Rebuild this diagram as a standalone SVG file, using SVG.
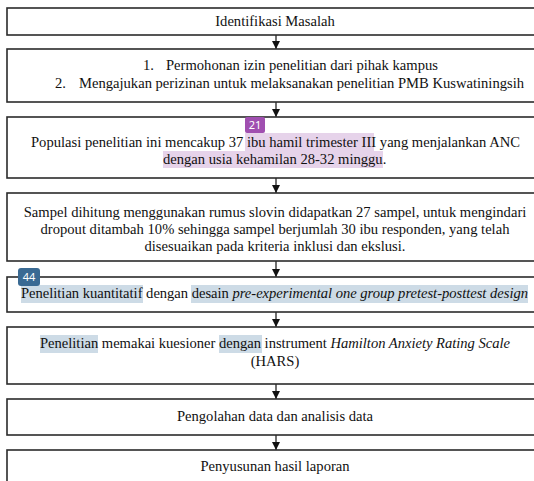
<svg xmlns="http://www.w3.org/2000/svg" width="534" height="481" viewBox="0 0 534 481">
<style>
.box{fill:#fff;stroke:#2b2b2b;stroke-width:1.6}
.t{font-family:"Liberation Serif","Times New Roman","DejaVu Serif",serif;font-size:14.6px;fill:#111}
.c{text-anchor:middle}
.i{font-style:italic}
.conn{stroke:#111;stroke-width:1.2;fill:none}
.hp{fill:#e6d3ea}
.hb{fill:#cddbe6}
.badge{font-family:"Noto Sans","DejaVu Sans",sans-serif;font-size:11px;fill:#fff;text-anchor:middle}
</style>
<defs>
<marker id="ah" viewBox="0 0 10 10" refX="10" refY="5" markerWidth="8" markerHeight="8" markerUnits="userSpaceOnUse" orient="auto">
<path d="M0,0 L10,5 L0,10 z" fill="#111"/>
</marker>
</defs>
<rect width="534" height="481" fill="#fff"/>
<g id="connectors">
<line class="conn" x1="276" y1="35" x2="276" y2="49" marker-end="url(#ah)"/>
<line class="conn" x1="276" y1="102" x2="276" y2="117" marker-end="url(#ah)"/>
<line class="conn" x1="276" y1="178" x2="276" y2="193" marker-end="url(#ah)"/>
<line class="conn" x1="276" y1="261" x2="276" y2="277" marker-end="url(#ah)"/>
<line class="conn" x1="276" y1="312" x2="276" y2="327" marker-end="url(#ah)"/>
<line class="conn" x1="276" y1="384" x2="276" y2="399" marker-end="url(#ah)"/>
<line class="conn" x1="276" y1="435" x2="276" y2="450" marker-end="url(#ah)"/>
</g>
<g id="n1">
<rect class="box" x="7" y="8" width="540" height="27"/>
<text class="t c" x="275" y="26">Identifikasi Masalah</text>
</g>
<g id="n2">
<rect class="box" x="7" y="49" width="540" height="53"/>
<text class="t" x="143" y="70">1.</text>
<text class="t" x="166" y="70">Permohonan izin penelitian dari pihak kampus</text>
<text class="t" x="55" y="88">2.</text>
<text class="t" x="79" y="88" textLength="445">Mengajukan perizinan untuk melaksanakan penelitian PMB Kuswatiningsih</text>
</g>
<g id="n3">
<rect class="box" x="7" y="117" width="540" height="61"/>
<rect class="hp" x="245" y="133" width="129" height="18"/>
<rect class="hp" x="163" y="151" width="220" height="17"/>
<text class="t" x="31" y="147" textLength="489">Populasi penelitian ini mencakup 37 ibu hamil trimester III yang menjalankan ANC</text>
<text class="t" x="163" y="164">dengan usia kehamilan 28-32 minggu.</text>
<rect x="245" y="117" width="20" height="16" rx="2" fill="#a04fb0"/>
<text class="badge" x="255" y="129">21</text>
</g>
<g id="n4">
<rect class="box" x="7" y="193" width="540" height="68"/>
<text class="t c" x="275" y="217">Sampel dihitung menggunakan rumus slovin didapatkan 27 sampel, untuk mengindari</text>
<text class="t c" x="275" y="234">dropout ditambah 10% sehingga sampel berjumlah 30 ibu responden, yang telah</text>
<text class="t c" x="275" y="251">disesuaikan pada kriteria inklusi dan ekslusi.</text>
</g>
<g id="n5">
<rect class="box" x="7" y="277" width="540" height="35"/>
<rect class="hb" x="21" y="285" width="122" height="18"/>
<rect class="hb" x="191" y="285" width="337" height="18"/>
<text class="t" x="21" y="298" textLength="507"><tspan>Penelitian kuantitatif dengan desain </tspan><tspan class="i">pre-experimental one group pretest-posttest design</tspan></text>
<rect x="18" y="268" width="22" height="18" rx="3" fill="#3a6a93"/>
<text class="badge" x="29" y="281">44</text>
</g>
<g id="n6">
<rect class="box" x="7" y="327" width="540" height="57"/>
<rect class="hb" x="40" y="335" width="58" height="18"/>
<rect class="hb" x="219" y="335" width="43" height="18"/>
<text class="t" x="40" y="348" textLength="470"><tspan>Penelitian memakai kuesioner dengan instrument </tspan><tspan class="i">Hamilton Anxiety Rating Scale</tspan></text>
<text class="t c" x="275" y="366">(HARS)</text>
</g>
<g id="n7">
<rect class="box" x="7" y="399" width="540" height="36"/>
<text class="t c" x="275" y="421">Pengolahan data dan analisis data</text>
</g>
<g id="n8">
<rect class="box" x="7" y="450" width="540" height="40"/>
<text class="t c" x="275" y="471">Penyusunan hasil laporan</text>
</g>
</svg>
